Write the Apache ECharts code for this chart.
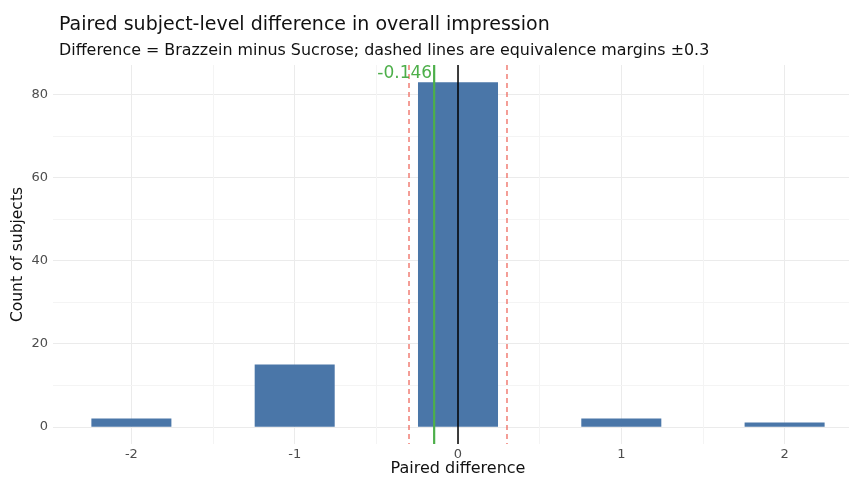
<!DOCTYPE html>
<html>
<head>
<meta charset="utf-8">
<script src="https://cdn.jsdelivr.net/npm/echarts@6/dist/echarts.min.js"></script>
<style>
  html, body { margin: 0; padding: 0; background: #fff; }
  #chart { width: 849px; height: 480px; }
</style>
</head>
<body>
<div id="chart"></div>
<script>
// paired differences (Brazzein - Sucrose) and subject counts
const diffValues = [-2, -1, 0, 1, 2]
const counts = [2, 15, 83, 2, 1]
const meanDiff = -0.146
const margins = [-0.3, 0.3]
const minorX = [-1.5, -0.5, 0.5, 1.5]
const minorY = [10, 30, 50, 70]

const barColor = '#4A76A8'
const barWidth = 0.49
const font = 'DejaVu Sans, sans-serif'

const chart = echarts.init(document.getElementById('chart'), null, { renderer: 'canvas' })

const barData = diffValues.map((d, i) => [d, counts[i]])

const option = {
  animation: false,
  backgroundColor: '#fff',
  title: [
    {
      text: 'Paired subject-level difference in overall impression',
      left: 54, top: 11,
      textStyle: { fontFamily: font, fontSize: 19, fontWeight: 'normal', color: '#111' }
    },
    {
      text: 'Difference = Brazzein minus Sucrose; dashed lines are equivalence margins \u00b10.3',
      left: 54, top: 38,
      textStyle: { fontFamily: font, fontSize: 15.9, fontWeight: 'normal', color: '#111' }
    }
  ],
  grid: { left: 53, width: 810, top: 65, height: 379, containLabel: false, outerBoundsMode: 'none' },
  xAxis: {
    type: 'value',
    min: -2.48,
    max: 2.48,
    splitNumber: 5,
    name: 'Paired difference',
    nameLocation: 'middle',
    nameGap: 17,
    nameMoveOverlap: false,
    nameTextStyle: { fontFamily: font, fontSize: 16, color: '#111' },
    axisLine: { show: false },
    axisTick: { show: false },
    axisLabel: {
      showMinLabel: false, showMaxLabel: false,
      margin: 4, fontFamily: font, fontSize: 13, color: '#4d4d4d',
      formatter: v => Number.isInteger(v) ? String(v) : ''
    },
    splitLine: { show: true, showMinLine: false, showMaxLine: false, lineStyle: { color: '#ebebeb', width: 1 } }
  },
  yAxis: {
    type: 'value',
    min: -4.15,
    max: 87.15,
    splitNumber: 5,
    name: 'Count of subjects',
    nameLocation: 'middle',
    nameGap: 27,
    nameMoveOverlap: false,
    nameTextStyle: { fontFamily: font, fontSize: 15.5, color: '#111' },
    axisLine: { show: false },
    axisTick: { show: false },
    axisLabel: {
      showMinLabel: false, showMaxLabel: false,
      margin: 5, fontFamily: font, fontSize: 13, color: '#4d4d4d',
      formatter: v => (Number.isInteger(v) && v % 20 === 0) ? String(v) : ''
    },
    splitLine: { show: true, showMinLine: false, showMaxLine: false, lineStyle: { color: '#ebebeb', width: 1 } }
  },
  series: [
    {
      // minor grid
      type: 'line',
      data: [],
      z: 1,
      markLine: {
        z: 1,
        silent: true,
        symbol: 'none',
        label: { show: false },
        lineStyle: { color: '#f4f4f4', width: 1, type: 'solid' },
        data: minorX.map(v => ({ xAxis: v })).concat(minorY.map(v => ({ yAxis: v })))
      }
    },
    {
      type: 'custom',
      data: barData,
      z: 2,
      renderItem: (params, api) => {
        const x = api.value(0)
        const y = api.value(1)
        const p0 = api.coord([x - barWidth / 2, y])
        const p1 = api.coord([x + barWidth / 2, 0])
        return {
          type: 'rect',
          shape: { x: p0[0], y: p0[1], width: p1[0] - p0[0], height: p1[1] - p0[1] },
          style: { fill: barColor }
        }
      }
    },
    {
      // reference lines: margins, zero, mean
      type: 'custom',
      data: [[margins[0], 0], [margins[1], 0], [0, 1], [meanDiff, 2]],
      z: 3,
      renderItem: (params, api) => {
        const cs = params.coordSys
        const x = api.coord([api.value(0), 0])[0]
        const kind = api.value(1)
        const top = cs.y
        const bottom = cs.y + cs.height
        if (kind === 0) {
          return {
            type: 'line',
            shape: { x1: x, y1: top, x2: x, y2: bottom },
            style: { stroke: '#EE6A5F', lineWidth: 1.3, lineDash: [5, 4] }
          }
        }
        if (kind === 1) {
          return {
            type: 'line',
            shape: { x1: x, y1: top, x2: x, y2: bottom },
            style: { stroke: '#000', lineWidth: 1.5 }
          }
        }
        return {
          type: 'group',
          children: [
            {
              type: 'line',
              shape: { x1: x, y1: top, x2: x, y2: bottom },
              style: { stroke: '#4DAF4A', lineWidth: 2.2 }
            },
            {
              type: 'text',
              style: {
                x: x - 2, y: top + 9,
                text: meanDiff.toFixed(3),
                fill: '#4DAF4A',
                font: '17px ' + font,
                align: 'right',
                verticalAlign: 'middle'
              }
            }
          ]
        }
      }
    }
  ]
}

chart.setOption(option)
</script>
</body>
</html>
